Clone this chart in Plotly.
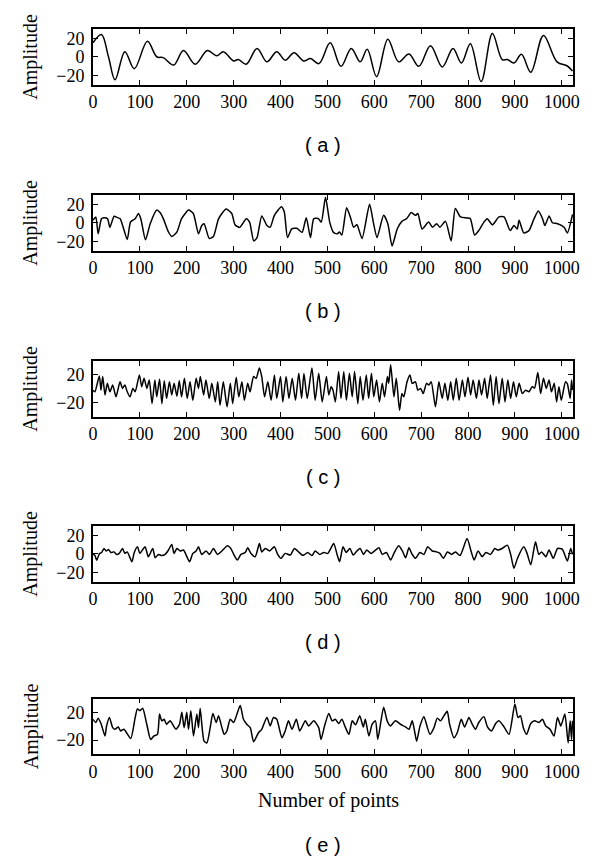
import plotly.graph_objects as go

# values: (sample index, amplitude)
signal_a = [
    (0, 15), (18, 24), (33, 0), (47, -25), (68, 5.5), (88, -13), (116, 16.7), (136, 0),
    (150, -1), (172, -9), (193, 6.7), (218, -8), (244, 6.7), (264, 1), (278, 5.5),
    (300, -4.5), (310, -3), (327, -8), (350, 9), (371, -5.5), (392, 5.5), (410, -3.7),
    (429, 4.4), (449, -4.5), (464, -2), (482, -7.4), (506, 15), (529, -10.4), (551, 9),
    (570, -5.5), (585, 8), (605, -21.5), (629, 19), (652, -5.5), (674, 3), (695, -10.4),
    (720, 12), (745, -11), (768, 9), (786, -6.7), (805, 14), (828, -26.7), (852, 25),
    (873, -3), (884, -3), (898, -6.7), (914, 2.6), (934, -16.7), (961, 23), (990, -5.5),
    (1012, -10), (1023, -15.5),
]

signal_b = [
    (0, 2.6), (6, 6.3), (11, -12), (18, 4.4), (23, 5.5), (31, 4.4), (36, -5), (45, 7),
    (52, 5.5), (58, 4.4), (73, -18), (80, 0.7), (90, 4.4), (97, 10), (102, 4.4),
    (112, -18.5), (122, -1), (136, 13.7), (143, 11), (150, 4.4), (161, -10), (168, -14.8),
    (179, -10), (189, 4.4), (204, 13.7), (214, 10), (225, -12), (232, -3), (237, -1),
    (248, -17), (257, -14.8), (268, 4.4), (284, 14.8), (296, 10), (303, -2.2), (313, -5),
    (327, 4.4), (334, 0.7), (343, -19.6), (350, -16), (360, 7.4), (371, -3), (378, -4.8),
    (387, 8), (402, 17.4), (408, 11.8), (415, -16), (424, -6.7), (435, -6), (446, -10.4),
    (455, 5.5), (464, -16), (471, 4.4), (481, 4.4), (487, 0.7), (496, 27.5), (505, 0.7),
    (513, -10.4), (521, -12), (526, -10), (531, -13.3), (541, 16.3), (549, 6.3),
    (556, -4.8), (563, -2.2), (574, -17), (590, 20), (598, 0.7), (606, -16), (620, 8),
    (629, -1), (638, -25), (649, -6.7), (659, 1.5), (669, 4.4), (679, 11), (688, 8),
    (693, 10), (702, -6.7), (716, 0.7), (724, -4.8), (733, -1), (740, -4.8), (752, 1.5),
    (764, -19.6), (773, 15.5), (784, 6.3), (798, 5.2), (805, 4.4), (814, -13.3),
    (823, -8.5), (834, 0.7), (841, 4.4), (852, -2.2), (866, 6.3), (877, 6.3), (890, -8.5),
    (898, -3), (905, -6.7), (909, 2.6), (919, -11), (930, -8.5), (941, 4.4), (950, 12.6),
    (959, 4.4), (964, -3), (973, 7.4), (980, 0), (991, -1), (1005, -4.8), (1012, -11),
    (1023, 9),
]

signal_c = [
    (0, -2), (4, -4.4), (13.5, 18.5), (17, -2), (20.7, 17.6), (25.6, -9), (30.6, 7.8),
    (36, -4.4), (42, 5.4), (49, -11.7), (57.7, 10), (63, 0.5), (68, 5.4), (73, -4.4),
    (79, -11.7), (85, 0.5), (90, -4.4), (99, 20), (104, 3), (109, 15), (115, 0.5),
    (120, 12.7), (126, -21.5), (132, 12.7), (136, -11.7), (142, 13.7), (147, -21.5),
    (152, 11.7), (157, -14), (163, 10), (168, -9), (173, 7.8), (179, -10.7), (184, 11.7),
    (189, -11.7), (195, 15), (201, -14), (207, 10), (213, -16.6), (220, 15), (225, 0.5),
    (229, 17.6), (236, -9), (241, 12.7), (248, -14), (253.5, 7.8), (261, -19), (266, 10),
    (271, -24), (278, 10), (286, -26), (293, 7.8), (298, -21.5), (305.5, 16.6),
    (311, -11.7), (317.7, 10), (323, -16.6), (330, 7.8), (335, -4.4), (342.6, 17.6),
    (348, 15), (355, 30), (360, 17.6), (366, -11.7), (373, 10), (380, -16.6), (387, 20),
    (392, -14), (400, 17.6), (405, -19), (412, 17.6), (418, -14), (425, 15), (432, -16.6),
    (439, 22.4), (445, -14), (450, 22), (457, -14), (467, 30), (474, -16.6),
    (481.5, 22.4), (489, -19), (498, 17.6), (503, -9), (508, 3), (512, -2), (517, -19),
    (524, 25), (529, -14), (535, 25), (540.6, -16.6), (547, 22.4), (553, -11.7),
    (558, 25), (565, -21.5), (570, 17.6), (576, -16.6), (583, 20), (588, -14),
    (594, 22.4), (599, -11.7), (605, 12.7), (611, -19), (617, 7.8), (622, -11.7),
    (628, 17.6), (631, 8), (635, 34.6), (642, -11.7), (647, 15), (654, -31), (659, -7),
    (663, -11.7), (670, 10), (676, 20), (681, 7.8), (688, 10), (693, -2), (699, 0.5),
    (704.5, -7), (711.5, 7.8), (716.5, 5.4), (721.5, 10), (730.6, -26), (737.9, 10),
    (745, -14), (750.7, 7.8), (757, -16.6), (763, 10), (768.5, -16.6), (775, 15),
    (781, -16.6), (788, 12.7), (793.5, -11.7), (800, 16.6), (805.6, -9), (811, 12.7),
    (818, -14), (823.4, 12.7), (829, -9), (835.5, 15), (841, -14), (848, 20), (854, -24),
    (860, 17.6), (866, -21.5), (873, 15), (879, -19), (885, 12.7), (891, -14), (897, 10),
    (903, -11.7), (909, 7.8), (916, -7), (923, -2), (930, -4.4), (937, 3), (942, 1),
    (949, 23.4), (955, -7), (961, 15), (967, 0.5), (973, 12.7), (978, -4.4), (984, 7.8),
    (989, -19), (994, 3), (999, -16.6), (1008, 10), (1012, 7), (1018, -14), (1021, 12.7),
    (1023, -2),
]

signal_d = [
    (0, 0), (4, -1.8), (8, -7), (13.5, 0), (18.5, 1.4), (23.5, 5.7), (28, 3), (33, 4.6),
    (38, 1.4), (45, 2), (50.5, -0.7), (56, 0.4), (63, 5.7), (68, 0.4), (73, 2),
    (83, -8.6), (88, 1.4), (95, 7.5), (100, 0.4), (111, 7.5), (118, -3.2), (127.5, 5.7),
    (132.5, -4.3), (139.6, -0.7), (146.7, -2), (154, -0.7), (161, 4), (168, 10),
    (173, 0.4), (179, 5.7), (186, 3), (193, 4), (206, -8.6), (213, 0.4), (220, 3),
    (225, 7.5), (232, -0.7), (241, 3), (248.6, -0.7), (257, 5.7), (265.6, -0.7), (275, 3),
    (287, 8.6), (294, 5.7), (301, -1.4), (308, -6.8), (315.5, -0.7), (324.8, 1.4),
    (330, 6.4), (337, 0.4), (346, -3.2), (355, 11), (360, 2), (367.5, 5.7), (376.8, 3),
    (386.8, 7.5), (394, -0.7), (401, -5), (410, 0.4), (421, -1.4), (429.5, 5.7),
    (436.6, 3), (446, -1.4), (450, -1.4), (458, 1.4), (467, -2), (474, 3), (484, -0.7),
    (492, 1.4), (501, 0.4), (513.5, 11), (520.7, -0.7), (526, -8.6), (533.4, 7.5),
    (540, 1.4), (548, 5.7), (555, -1.4), (563, 3), (570, 5.7), (577, -0.7), (584, 4),
    (593, 0.4), (610, 6.4), (617, -0.7), (626, 1.4), (635, -6.8), (642, 0.4), (652, 8.6),
    (660, 3), (667, -4.3), (674, 6.4), (681, -0.7), (688, -5), (697, 1.4), (706, -0.7),
    (714, 7.5), (723.7, 3), (733, 2), (740, 0.4), (747.6, -5), (756, 2), (765, -0.7),
    (773.5, 2), (783, -2), (798, 16.4), (807, 2), (813, -6.8), (821.5, 3), (830.5, -3.2),
    (838, 1.4), (848, -0.7), (857, 5.7), (864, 4), (873, 5.7), (884, 9.3), (891, -0.7),
    (898, -15.7), (906, -4.3), (919, 7.5), (926, 0.4), (934, -12), (944, 12.9),
    (951, -0.7), (957, 2), (966, -3.2), (973, 4), (982, -5), (991, 5.7), (1001, 5),
    (1012, -7.9), (1019, 5.7), (1023, -0.7),
]

signal_e = [
    (0, 10), (6, 5.4), (11, 11.7), (17, 3.9), (25.6, -14), (29, 0.5), (35, 12.7),
    (42, -2), (47, -4.4), (54, -1), (59, -6.8), (66, -4.4), (80.5, -17.6), (90, 12.7),
    (94.7, 25), (100, 22.4), (106, 26), (114.7, 2.9), (123, -19), (130, -14),
    (137.5, -11.7), (142, 17.6), (146.7, 7.8), (151.7, 10), (157, 2.9), (164.5, 7.8),
    (171.7, 0.5), (177, -4.4), (184.5, 2.9), (189.5, 20), (194.4, -2), (200, 20),
    (203.7, -4.4), (208.7, 22.4), (214.4, -14), (221.5, 17.6), (225, -2), (228.6, 26),
    (237, -21.5), (243, -24), (250, -2), (255.7, 18.5), (262.8, 5.4), (267.8, 15),
    (275, -2), (280, -11.7), (285.6, -6.8), (292.7, 10), (300, 5.4), (314, 29.8),
    (321, 10), (328, 2.9), (335.5, -2), (342.6, -22.4), (353, -9.3), (360, -4.4),
    (371, 12.7), (378, 0.5), (385, 12.7), (392, 10), (403, -16.6), (410, -6.8),
    (417, 7.8), (424.5, -4.4), (433.8, 10), (441, -6.8), (453, 7.8), (460, 0.5),
    (471, 7.8), (481.5, -2), (486.5, -19), (494, 0.5), (503, 18.5), (510, 7.8),
    (517, 10), (524, 3.9), (531, 10), (538, -1), (546, -11.7), (553, 7.8), (560, 2),
    (569, 15), (576.6, -1), (581, 10), (588.5, -14), (595.6, 2.9), (602.6, 7.8),
    (607.5, -19), (620, 27.3), (627.5, 7.8), (634.6, 0.5), (645, 7.8), (656, 2.9),
    (666.7, -1), (674, -4.4), (681, 7.8), (686, -6.8), (690.5, -21.5), (697.6, 0.5),
    (706, 13.7), (713, -1), (719, -11.7), (727.5, -2), (734.5, 11.7), (741.5, 7.8),
    (748.6, 15), (755.7, 21.5), (760.7, 2.9), (770, -16.6), (777, -9.3), (785.6, 10),
    (792.7, -1), (802, 12.7), (809, 2.9), (816, -4.4), (823, 5.4), (834, 13.7),
    (841.5, -1), (850, -6.8), (859, 3.9), (866, 7.8), (877, -1), (887.5, -11.7),
    (900, 32), (906.7, 12.7), (912, 15), (918, -2), (925, -11.7), (933.8, 3.9),
    (942, 7.8), (951.7, 5.4), (958.7, 10), (965.8, 0.5), (975, -4.4), (983.5, -14),
    (991, 12.7), (998, 0.5), (1006.6, 17.6), (1013.6, -24), (1018, 7.8), (1021, -19),
    (1023, 7.8),
]

signals = [signal_a, signal_b, signal_c, signal_d, signal_e]
panel_letters = ["a", "b", "c", "d", "e"]
y_ranges = [[-30, 30], [-30, 30], [-40, 40], [-30, 30], [-40, 40]]
y_ticks = [[-20, 0, 20], [-20, 0, 20], [-20, 20], [-20, 0, 20], [-20, 20]]
x_ticks = list(range(0, 1001, 100))

# the page puts the figure 8px in from the top left, so work in page pixels
OFF = 8
W, H = 600 - OFF, 861 - OFF
ML, MR, MT, MB = 93 - OFF, 600 - 573, 29 - OFF, 861 - 754
plot_h = H - MT - MB
# panel boxes in page pixels (top, bottom)
boxes = [(29, 84.5), (195, 250.5), (361, 416.5), (526, 581.5), (698.5, 754)]
label_rows = [145, 311, 477, 642, 845]


def py(p):
    return (H - MB - (p - OFF)) / plot_h


def px_(p):
    return (p - OFF - ML) / (W - ML - MR)


serif = "Liberation Serif"
sans = "Liberation Sans"

fig = go.Figure()
layout = {}
annotations = []
for i, (sig, letter) in enumerate(zip(signals, panel_letters)):
    n = "" if i == 0 else str(i + 1)
    xs = [p[0] for p in sig]
    ys = [p[1] for p in sig]
    fig.add_trace(
        go.Scatter(
            x=xs, y=ys, mode="lines",
            line=dict(color="black", width=1.5, shape="spline", smoothing=0.6 if i else 1.0),
            xaxis="x" + n, yaxis="y" + n, showlegend=False, hoverinfo="skip",
        )
    )
    top, bot = boxes[i]
    common = dict(
        showline=True, linecolor="black", linewidth=1.8, mirror="ticks",
        ticks="inside", ticklen=5, tickwidth=1.2, tickcolor="black",
        showgrid=False, zeroline=False,
        tickfont=dict(family=serif, size=18, color="black"),
    )
    layout["xaxis" + n] = dict(
        common, domain=[0, 1], range=[0, 1024], tickvals=x_ticks,
        anchor="y" + n, ticklabelstandoff=0,
    )
    layout["yaxis" + n] = dict(
        common, domain=[py(bot), py(top)], range=y_ranges[i], tickvals=y_ticks[i],
        anchor="x" + n, ticklabelstandoff=3,
    )
    annotations.append(dict(
        text="Amplitude", textangle=-90, xref="paper", yref="paper",
        x=px_(31), y=py((top + bot) / 2), xanchor="center", yanchor="middle",
        showarrow=False, font=dict(family=serif, size=20, color="black"),
    ))
    annotations.append(dict(
        text="( %s )" % letter, xref="paper", yref="paper",
        x=px_(323), y=py(label_rows[i]), xanchor="center", yanchor="middle",
        showarrow=False, font=dict(family=sans, size=20, color="black"),
    ))

annotations.append(dict(
    text="Number of points", xref="paper", yref="paper",
    x=px_(328), y=py(800), xanchor="center", yanchor="middle",
    showarrow=False, font=dict(family=serif, size=20, color="black"),
))

fig.update_layout(
    width=W, height=H,
    margin=dict(l=ML, r=MR, t=MT, b=MB),
    paper_bgcolor="white", plot_bgcolor="white",
    annotations=annotations,
    **layout,
)

fig.write_html("out.html")
